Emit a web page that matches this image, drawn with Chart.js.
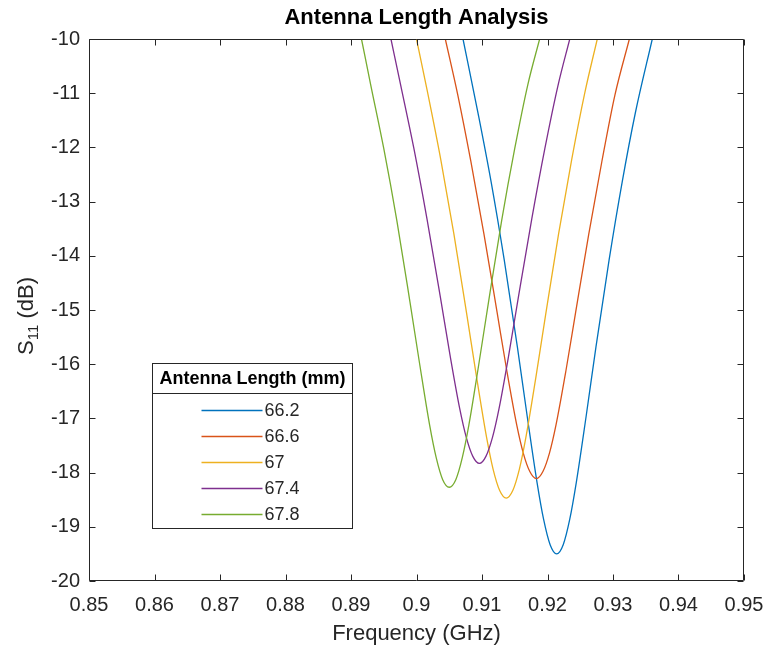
<!DOCTYPE html>
<html>
<head>
<meta charset="utf-8">
<title>Antenna Length Analysis</title>
<script src="https://cdn.jsdelivr.net/npm/chart.js@4.4.1/dist/chart.umd.min.js"></script>
<style>
  html, body { margin: 0; padding: 0; background: #ffffff; }
  #wrap { width: 765px; height: 652px; }
</style>
</head>
<body>
<div id="wrap"><canvas id="chart" width="765" height="652"></canvas></div>
<script>
// Antenna lengths (mm), one S11 sweep each
const lengths = ['66.2', '66.6', '67', '67.4', '67.8'];

// Frequency samples (GHz) and S11 (dB) per antenna length
const freq_66_2 = [0.9071, 0.9094, 0.9114, 0.9134, 0.9154, 0.9169, 0.9184, 0.9194, 0.9204, 0.9214, 0.9224, 0.9234, 0.9244, 0.9259, 0.9274, 0.9294, 0.9314, 0.9334, 0.9360];
const s11_66_2  = [-10.00, -11.37, -12.64, -14.08, -15.68, -16.96, -18.18, -18.86, -19.33, -19.50, -19.33, -18.86, -18.18, -16.96, -15.68, -14.08, -12.64, -11.37, -10.00];

const freq_66_6 = [0.9044, 0.9063, 0.9083, 0.9103, 0.9123, 0.9138, 0.9153, 0.9163, 0.9173, 0.9183, 0.9193, 0.9203, 0.9213, 0.9228, 0.9243, 0.9263, 0.9283, 0.9303, 0.9325];
const s11_66_6  = [-10.00, -11.03, -12.26, -13.60, -15.04, -16.13, -17.12, -17.64, -17.98, -18.11, -17.98, -17.64, -17.12, -16.13, -15.04, -13.60, -12.26, -11.03, -10.00];

const freq_67_0 = [0.9000, 0.9017, 0.9037, 0.9057, 0.9077, 0.9092, 0.9107, 0.9117, 0.9127, 0.9137, 0.9147, 0.9157, 0.9167, 0.9182, 0.9197, 0.9217, 0.9237, 0.9257, 0.9276];
const s11_67_0  = [-10.00, -10.99, -12.22, -13.59, -15.10, -16.26, -17.35, -17.94, -18.33, -18.47, -18.33, -17.94, -17.35, -16.26, -15.10, -13.59, -12.22, -10.99, -10.00];

const freq_67_4 = [0.8961, 0.8976, 0.8996, 0.9016, 0.9036, 0.9051, 0.9066, 0.9076, 0.9086, 0.9096, 0.9106, 0.9116, 0.9126, 0.9141, 0.9156, 0.9176, 0.9196, 0.9216, 0.9234];
const s11_67_4  = [-10.00, -10.86, -12.02, -13.32, -14.73, -15.82, -16.82, -17.35, -17.70, -17.83, -17.70, -17.35, -16.82, -15.82, -14.73, -13.32, -12.02, -10.86, -10.00];

const freq_67_8 = [0.8916, 0.8930, 0.8950, 0.8970, 0.8990, 0.9005, 0.9020, 0.9030, 0.9040, 0.9050, 0.9060, 0.9070, 0.9080, 0.9095, 0.9110, 0.9130, 0.9150, 0.9170, 0.9188];
const s11_67_8  = [-10.00, -10.84, -12.02, -13.35, -14.85, -16.01, -17.12, -17.72, -18.13, -18.27, -18.13, -17.72, -17.12, -16.01, -14.85, -13.35, -12.02, -10.84, -10.00];

// Axis tick values
const xTicks = [0.85, 0.86, 0.87, 0.88, 0.89, 0.90, 0.91, 0.92, 0.93, 0.94, 0.95];
const yTicks = [-20, -19, -18, -17, -16, -15, -14, -13, -12, -11, -10];

const titleText = 'Antenna Length Analysis';
const xLabel = 'Frequency (GHz)';
const legendTitle = 'Antenna Length (mm)';

// Styling
const lineColors = ['#0072BD', '#D95319', '#EDB120', '#7E2F8E', '#77AC30'];
const FONT = "'Liberation Sans', Arial, Helvetica, sans-serif";
const AXIS_COLOR = '#262626';

const freqs = [freq_66_2, freq_66_6, freq_67_0, freq_67_4, freq_67_8];
const s11s = [s11_66_2, s11_66_6, s11_67_0, s11_67_4, s11_67_8];

const datasets = lengths.map((len, i) => ({
  label: len,
  data: freqs[i].map((f, j) => ({ x: f, y: s11s[i][j] })),
  borderColor: lineColors[i],
  backgroundColor: lineColors[i],
  borderWidth: 1.3,
  pointRadius: 0,
  cubicInterpolationMode: 'monotone',
  fill: false,
  order: lengths.length - i
}));

// Box frame, inward tick marks, title, y label with subscript, and boxed legend
const decorations = {
  id: 'decorations',
  afterDatasetsDraw(chart) {
    const { ctx, chartArea: a, scales } = chart;
    const xs = scales.x, ys = scales.y;
    ctx.save();
    ctx.strokeStyle = AXIS_COLOR;
    ctx.lineWidth = 1;
    const L = Math.round(a.left) + 0.5, R = Math.round(a.right) - 0.5;
    const T = Math.round(a.top) + 0.5, B = Math.round(a.bottom) - 0.5;
    ctx.beginPath();
    ctx.rect(L, T, R - L, B - T);
    ctx.stroke();
    const tl = 6;
    ctx.beginPath();
    xTicks.forEach(v => {
      const px = Math.round(xs.getPixelForValue(v)) + 0.5;
      ctx.moveTo(px, B); ctx.lineTo(px, B - tl);
      ctx.moveTo(px, T); ctx.lineTo(px, T + tl);
    });
    yTicks.forEach(v => {
      const py = Math.round(ys.getPixelForValue(v)) + 0.5;
      ctx.moveTo(L, py); ctx.lineTo(L + tl, py);
      ctx.moveTo(R, py); ctx.lineTo(R - tl, py);
    });
    ctx.stroke();

    // Title
    ctx.fillStyle = '#000000';
    ctx.font = 'bold 22px ' + FONT;
    ctx.textAlign = 'center';
    ctx.textBaseline = 'middle';
    ctx.fillText(titleText, (a.left + a.right) / 2, 18);

    // Y axis label: S11 (dB) with subscript
    ctx.save();
    ctx.translate(27, (a.top + a.bottom) / 2 + 6);
    ctx.rotate(-Math.PI / 2);
    ctx.fillStyle = AXIS_COLOR;
    ctx.textAlign = 'left';
    ctx.textBaseline = 'middle';
    const big = '22px ' + FONT, small = '15px ' + FONT;
    ctx.font = big; const wS = ctx.measureText('S').width; const wRest = ctx.measureText(' (dB)').width;
    ctx.font = small; const wSub = ctx.measureText('11').width;
    let x0 = -(wS + wSub + wRest) / 2;
    ctx.font = big; ctx.fillText('S', x0, 0);
    ctx.font = small; ctx.fillText('11', x0 + wS, 7);
    ctx.font = big; ctx.fillText(' (dB)', x0 + wS + wSub, 0);
    ctx.restore();

    // Legend
    const bx = 152.5, by = 363.5, bw = 200, bh = 165, titleH = 30;
    ctx.fillStyle = '#ffffff';
    ctx.fillRect(bx, by, bw, bh);
    ctx.strokeStyle = AXIS_COLOR;
    ctx.lineWidth = 1;
    ctx.strokeRect(bx, by, bw, bh);
    ctx.beginPath();
    ctx.moveTo(bx, by + titleH); ctx.lineTo(bx + bw, by + titleH);
    ctx.stroke();
    ctx.fillStyle = '#000000';
    ctx.font = 'bold 18px ' + FONT;
    ctx.textAlign = 'center';
    ctx.textBaseline = 'middle';
    ctx.fillText(legendTitle, bx + bw / 2, by + titleH / 2 + 1);
    ctx.font = '18px ' + FONT;
    ctx.textAlign = 'left';
    chart.data.datasets.forEach((ds, i) => {
      const yy = by + 47 + i * 26;
      ctx.strokeStyle = ds.borderColor;
      ctx.lineWidth = 1.3;
      ctx.beginPath();
      ctx.moveTo(bx + 49, yy); ctx.lineTo(bx + 110, yy);
      ctx.stroke();
      ctx.fillStyle = AXIS_COLOR;
      ctx.fillText(ds.label, bx + 112, yy + 1);
    });
    ctx.restore();
  }
};

new Chart(document.getElementById('chart'), {
  type: 'line',
  data: { datasets },
  options: {
    responsive: false,
    animation: false,
    devicePixelRatio: 1,
    layout: { padding: { top: 39, right: 21, left: 0, bottom: 0 } },
    plugins: {
      legend: { display: false },
      title: { display: false },
      tooltip: { enabled: false }
    },
    scales: {
      x: {
        type: 'linear',
        min: 0.85, max: 0.95,
        afterFit(scale) {
          scale.height = 71;
          scale.paddingLeft = 0;
          scale.paddingRight = 0;
        },
        afterBuildTicks(scale) { scale.ticks = xTicks.map(v => ({ value: v })); },
        grid: { display: false, drawTicks: false },
        border: { display: false },
        ticks: {
          padding: 12,
          color: AXIS_COLOR,
          font: { family: FONT, size: 20 },
          maxRotation: 0,
          autoSkip: false,
          callback: v => String(Number(v.toFixed(2)))
        },
        title: {
          display: true,
          text: xLabel,
          color: AXIS_COLOR,
          font: { family: FONT, size: 22 },
          padding: { top: 0, bottom: 5 }
        }
      },
      y: {
        type: 'linear',
        min: -20, max: -10,
        afterFit(scale) {
          scale.width = 89;
          scale.paddingTop = 0;
          scale.paddingBottom = 0;
        },
        afterBuildTicks(scale) { scale.ticks = yTicks.map(v => ({ value: v })); },
        grid: { display: false, drawTicks: false },
        border: { display: false },
        ticks: {
          padding: 9,
          color: AXIS_COLOR,
          font: { family: FONT, size: 20 },
          autoSkip: false,
          callback: v => String(v)
        }
      }
    }
  },
  plugins: [decorations]
});
</script>
</body>
</html>
